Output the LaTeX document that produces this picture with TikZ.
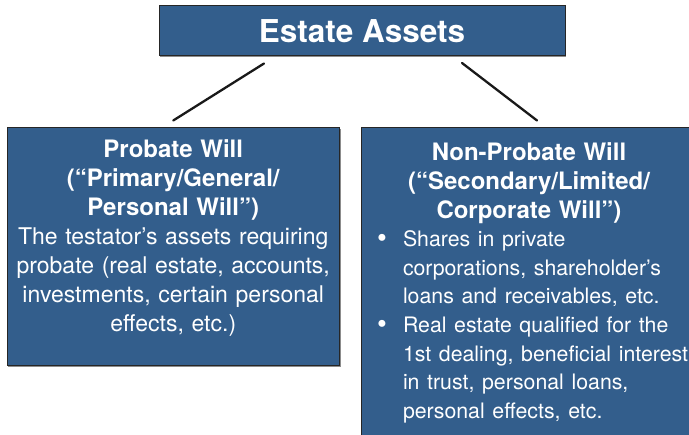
\documentclass[tikz,border=0pt]{standalone}
\usepackage{fontspec}
\setmainfont{TeX Gyre Heros}
\usetikzlibrary{shadows}
\definecolor{willblue}{RGB}{51,94,140}
\begin{document}
\begin{tikzpicture}[x=1pt, y=1pt,
		box/.style = {draw=black!85, line width=1pt, fill=willblue, inner sep=0pt,
			drop shadow={shadow xshift=1pt, shadow yshift=-1pt, fill=black!45, opacity=1}},
		boxtext/.style = {text=white, inner sep=0pt, anchor=north,
			font=\fontsize{23}{29}\selectfont},
		link/.style = {line width=2.3pt, black!90, line cap=round}]
			\useasboundingbox (0,0) rectangle (689,435);
			\clip (0,0) rectangle (689,435);
			
			\node[box, minimum width=406pt, minimum height=50pt, text=white,
				font=\fontsize{31.5}{36}\selectfont\bfseries] (assets) at (362,404) {Estate Assets};
			\node[box, minimum width=332.5pt, minimum height=238pt] (probate) at (173.25,188) {};
			\node[box, minimum width=336pt, minimum height=330pt] (nonprobate) at (529,142) {};
			
			\node[boxtext, text width=330pt, align=center] (probatetext)
				at ([yshift=-11.5pt]probate.north) {%
				{\fontsize{24}{29}\selectfont\bfseries Probate Will\\(“Primary/General/\\Personal Will”)}\\
				The testator’s assets requiring\\probate (real estate, accounts,\\investments, certain personal\\effects, etc.)};
			\node[boxtext, text width=316pt] (nonprobatetext)
				at ([yshift=-14.5pt]nonprobate.north) {%
				\parskip=0pt
				{\centering\fontsize{24}{29}\selectfont\bfseries Non-Probate Will\\(“Secondary/Limited/\\Corporate Will”)\par}
				\fontsize{21.3}{28.6}\selectfont
				\begin{list}{\raisebox{-1pt}{\fontsize{28}{28}\selectfont\textbullet}}{\setlength\leftmargin{32pt}\setlength\labelwidth{14pt}
					\setlength\labelsep{16pt}\setlength\topsep{0pt}\setlength\partopsep{0pt}
					\setlength\itemsep{0pt}\setlength\parsep{0pt}}
				\item \mbox{Shares in private}\\\mbox{corporations, shareholder’s}\\\mbox{loans and receivables, etc.}
				\item \mbox{Real estate qualified for the}\\\mbox{1st dealing, beneficial interest}\\\mbox{in trust, personal loans,}\\\mbox{personal effects, etc.}
				\end{list}};
			
			\draw[link] ([xshift=-98pt,yshift=-7pt]assets.south) -- ([yshift=7pt]probate.north);
			\draw[link] ([xshift=100pt,yshift=-6.5pt]assets.south) -- ([xshift=8pt,yshift=7pt]nonprobate.north);
		\end{tikzpicture}
\end{document}
